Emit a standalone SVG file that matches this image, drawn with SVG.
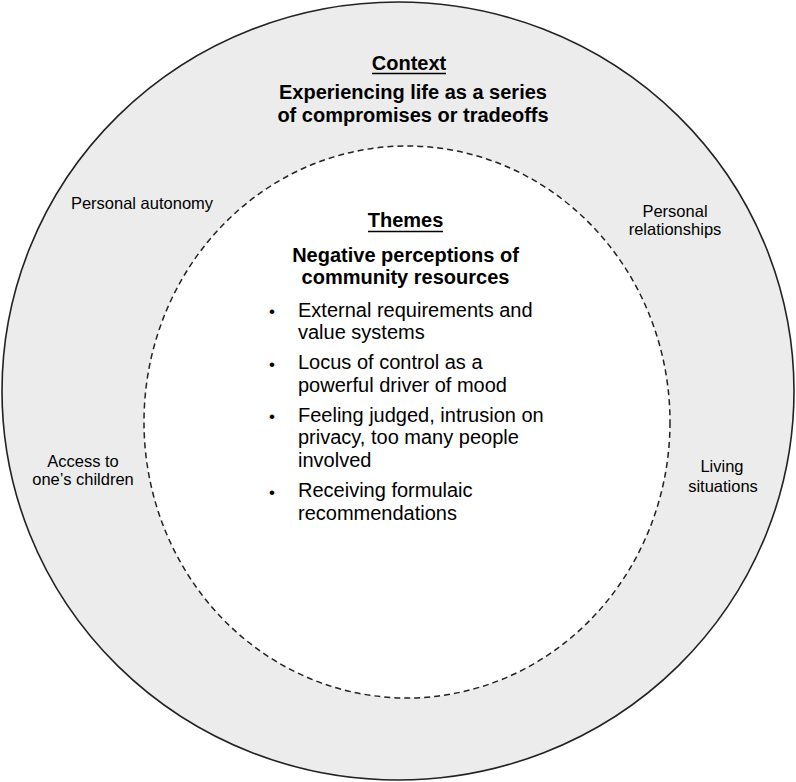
<svg xmlns="http://www.w3.org/2000/svg" width="796" height="782" viewBox="0 0 796 782">
<style>
text{font-family:"Liberation Sans",Arial,sans-serif;fill:#000}
.h{font-size:20px;font-weight:bold;text-anchor:middle}
.b{font-size:20px}
.s{font-size:16.5px;text-anchor:middle}
.dot{font-size:17px;text-anchor:middle}
.ul{stroke:#000;stroke-width:1.6}
</style>
<g id="context">
<ellipse cx="398" cy="391" rx="396" ry="389" fill="#ececec" stroke="#222" stroke-width="1.6"/>
<text class="h" x="409" y="70">Context</text>
<line class="ul" x1="372" y1="73.5" x2="446" y2="73.5"/>
<text class="h" x="413" y="99">Experiencing life as a series</text>
<text class="h" x="413" y="122">of compromises or tradeoffs</text>
</g>
<g id="themes">
<ellipse cx="407" cy="422" rx="263" ry="276" fill="#fff" stroke="#222" stroke-width="1.5" stroke-dasharray="6 4"/>
<text class="h" x="405.5" y="227">Themes</text>
<line class="ul" x1="368" y1="231.5" x2="443" y2="231.5"/>
<text class="h" x="405.5" y="261.5">Negative perceptions of</text>
<text class="h" x="405.5" y="284">community resources</text>
<text class="dot" x="272" y="317">•</text>
<text class="b" x="298" y="316.5">External requirements and</text>
<text class="b" x="298" y="339">value systems</text>
<text class="dot" x="272" y="369.5">•</text>
<text class="b" x="298" y="369">Locus of control as a</text>
<text class="b" x="298" y="391.5">powerful driver of mood</text>
<text class="dot" x="272" y="422">•</text>
<text class="b" x="298" y="421.5">Feeling judged, intrusion on</text>
<text class="b" x="298" y="444">privacy, too many people</text>
<text class="b" x="298" y="466.5">involved</text>
<text class="dot" x="272" y="497.5">•</text>
<text class="b" x="298" y="497">Receiving formulaic</text>
<text class="b" x="298" y="519.5">recommendations</text>
</g>
<g id="personal-autonomy"><text class="s" x="142" y="209">Personal autonomy</text></g>
<g id="personal-relationships"><text class="s" x="675" y="217">Personal</text><text class="s" x="675" y="235">relationships</text></g>
<g id="access-children"><text class="s" x="83" y="466.5">Access to</text><text class="s" x="83" y="484.5">one’s children</text></g>
<g id="living-situations"><text class="s" x="722" y="471.5">Living</text><text class="s" x="723" y="492">situations</text></g>
<g id="connectors"/>
</svg>
